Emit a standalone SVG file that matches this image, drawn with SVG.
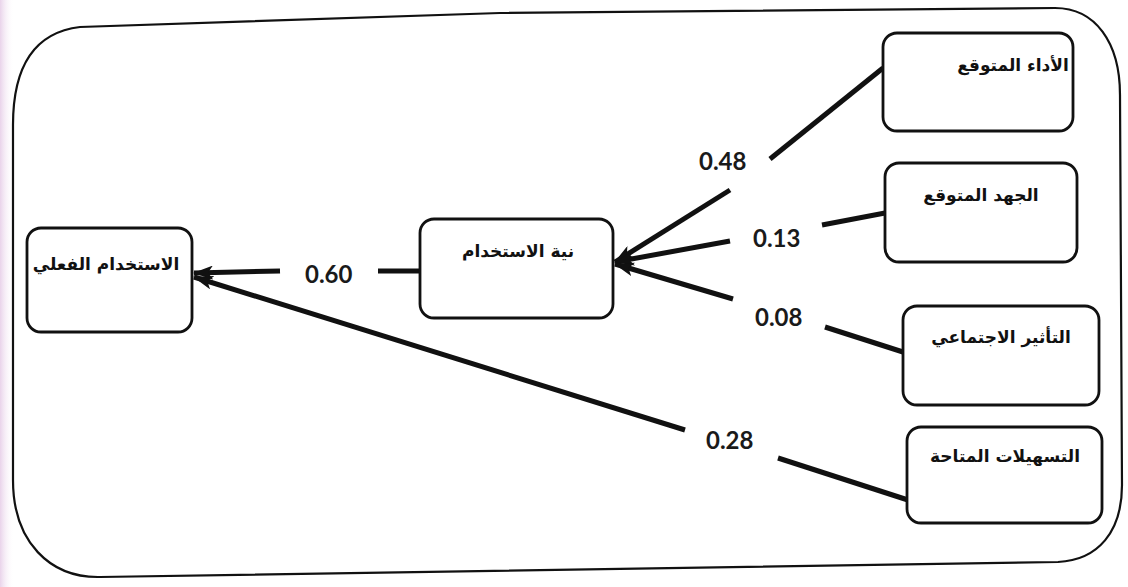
<svg xmlns="http://www.w3.org/2000/svg" width="1128" height="587" viewBox="0 0 1128 587">
  <style>
    .frame { fill: none; stroke: #111; stroke-width: 2.2; }
    .node rect { fill: #fff; stroke: #111; stroke-width: 2.8; }
    .node text { font-family: "DejaVu Sans", sans-serif; font-weight: bold; font-size: 17px; fill: #111; text-anchor: middle; }
    .edge { stroke: #111; stroke-width: 5; fill: none; }
    .coef { font-family: Lato, "Open Sans", sans-serif; font-weight: bold; font-size: 24px; fill: #1a1a1a; }
  </style>
  <defs>
    <marker id="head" viewBox="0 0 20 14" refX="19" refY="7" markerWidth="20" markerHeight="14" markerUnits="userSpaceOnUse" orient="auto">
      <path d="M0,0 L20,7 L0,14 L5,7 Z" fill="#111"/>
    </marker>
    <linearGradient id="edgeTint" x1="0" y1="0" x2="1" y2="0">
      <stop offset="0" stop-color="#e9d3ea"/>
      <stop offset="1" stop-color="#ffffff" stop-opacity="0"/>
    </linearGradient>
  </defs>

  <rect width="1128" height="587" fill="#fff"/>
  <rect x="0" y="0" width="14" height="587" fill="url(#edgeTint)"/>

  <!-- enclosing frame -->
  <path class="frame" d="M13,480 L13,125 C13,62 38,32 80,27 L500,13 L1055,8 C1095,8 1120,42 1120,95 L1122,485 C1122,532 1098,560 1058,562 L100,577 C50,578 13,542 13,480 Z"/>

  <!-- connectors -->
  <g id="connectors">
    <line class="edge" x1="420" y1="271" x2="378" y2="271"/>
    <line class="edge" x1="280" y1="271" x2="194" y2="273" marker-end="url(#head)"/>

    <line class="edge" x1="908" y1="500" x2="778" y2="458"/>
    <line class="edge" x1="685" y1="430" x2="194" y2="277" marker-end="url(#head)"/>

    <line class="edge" x1="883" y1="68" x2="770" y2="159"/>
    <line class="edge" x1="730" y1="190" x2="615" y2="262" marker-end="url(#head)"/>

    <line class="edge" x1="885" y1="213" x2="822" y2="225"/>
    <line class="edge" x1="730" y1="241" x2="615" y2="262" marker-end="url(#head)"/>

    <line class="edge" x1="903" y1="352" x2="825" y2="327"/>
    <line class="edge" x1="733" y1="299" x2="615" y2="264" marker-end="url(#head)"/>

    <text class="coef" x="305" y="283">0.60</text>
    <text class="coef" x="699" y="170">0.48</text>
    <text class="coef" x="753" y="247">0.13</text>
    <text class="coef" x="755" y="326">0.08</text>
    <text class="coef" x="706" y="449">0.28</text>
  </g>

  <!-- constructs -->
  <g id="actual-use" class="node">
    <rect x="27" y="228" width="165" height="104" rx="14"/>
    <text x="106" y="270" direction="rtl">الاستخدام الفعلي</text>
  </g>
  <g id="intention" class="node">
    <rect x="420" y="219" width="193" height="99" rx="14"/>
    <text x="518" y="257" direction="rtl">نية الاستخدام</text>
  </g>
  <g id="performance" class="node">
    <rect x="883" y="33" width="190" height="98" rx="14"/>
    <text x="1013" y="71" direction="rtl">الأداء المتوقع</text>
  </g>
  <g id="effort" class="node">
    <rect x="885" y="163" width="192" height="99" rx="14"/>
    <text x="981" y="201" direction="rtl">الجهد المتوقع</text>
  </g>
  <g id="social" class="node">
    <rect x="903" y="306" width="196" height="99" rx="14"/>
    <text x="1001" y="343" direction="rtl">التأثير الاجتماعي</text>
  </g>
  <g id="facilitating" class="node">
    <rect x="907" y="427" width="195" height="96" rx="14"/>
    <text x="1005" y="462" direction="rtl">التسهيلات المتاحة</text>
  </g>
</svg>
